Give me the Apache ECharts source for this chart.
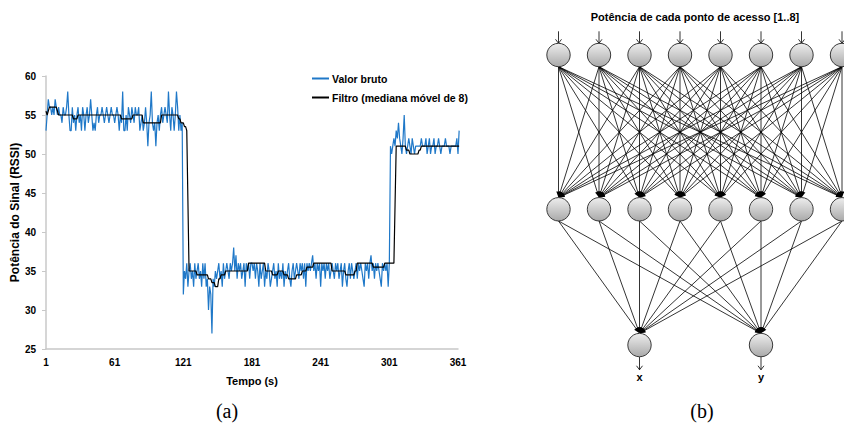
<!DOCTYPE html>
<html>
<head>
<meta charset="utf-8">
<script src="https://cdn.jsdelivr.net/npm/echarts@6/dist/echarts.min.js"></script>
<style>
  html, body { margin: 0; padding: 0; background: #fff; }
  #chart { width: 844px; height: 428px; }
</style>
</head>
<body>
<div id="chart"></div>
<script>
// amostras 1..361 (s)
const tempo = Array.from({ length: 361 }, (_, i) => String(i + 1));

// RSSI bruto
const valorBruto = [
  53,55,57,56,56,55,56,55,57,56, 55,56,55,55,54,56,55,55,56,58,
  55,53,53,56,54,55,53,55,56,54, 55,53,56,55,53,55,56,54,55,57,
  55,53,54,53,55,56,54,55,55,56, 55,54,55,56,55,54,55,56,55,55,
  54,55,56,55,53,55,54,58,53,53, 55,53,56,55,54,56,55,54,56,55,
  55,56,53,54,55,53,54,56,54,51, 54,55,58,54,53,54,51,54,55,53,
  55,56,54,55,56,55,54,58,55,53, 56,55,53,55,58,56,53,55,53,54,
  32,35,34,36,33,35,36,34,35,33, 36,34,35,36,34,35,33,36,34,36,
  33,34,30,33,32,27,34,33,35,34, 35,36,34,35,33,36,34,35,36,35,
  34,36,35,36,38,35,37,34,36,35, 36,34,35,36,33,36,35,36,34,36,
  36,35,36,34,36,35,33,36,34,35, 36,33,35,34,36,35,33,34,35,36,
  34,35,33,36,34,35,34,36,33,35, 34,35,36,34,33,35,36,34,35,36,
  35,34,36,35,36,34,36,33,36,35, 36,35,36,37,35,36,34,36,35,36,
  33,36,35,36,34,36,35,36,34,35, 36,35,34,36,35,36,34,35,36,33,
  35,36,34,33,35,36,34,36,35,34, 35,36,34,36,35,36,35,34,33,36,
  35,36,34,36,37,35,36,34,36,35, 36,35,34,33,36,35,36,35,36,33,
  36,51,50,51,52,51,53,52,54,52, 51,50,52,55,51,50,51,52,51,50,
  52,51,50,51,51,51,51,51,52,51, 51,51,52,50,51,52,50,51,51,52,
  50,51,51,52,51,50,51,51,51,52, 51,51,51,50,51,51,51,51,51,52,
  50,53
];

// filtro (mediana móvel de 8)
const filtroMediana = [
  55.5,55,55.5,56,56,56,56,56,56,56, 55.5,55,55,55,55,55,55,55,55,55,
  55,55,55,55,54.5,54.5,54.5,54.5,55,55, 55,55,55,55,55,55,55,55,55,55,
  55,55,55,55,55,55,55,55,55,55, 55,55,55,55,55,55,55,55,55,55,
  55,55,55,55,55,55,54.5,54.5,54.5,54.5, 54.5,54.5,54.5,54.5,54.5,54.5,55,55,55,55,
  55,55,55,55,55,54,54,54,54,54, 54,54,54,54,54,54,54,54,54,54,
  54,55,55,55,55,55,55,55,55,55, 55,55,55,55,55,55,54.5,54.5,54,54,
  54,53.5,53.5,53,44,35,35,35,35,35, 35,35,34.5,34.5,34.5,34.5,34.5,34.5,34.5,34.5,
  34.5,34.5,34,34,34,33.5,33.5,33.5,33,33, 33,34,34,34.5,34.5,34.5,34.5,35,35,35,
  35,35,35,35,35,35,35,35,35,35, 35,35,35,35,35,35,35,36,36,36,
  36,36,36,36,36,36,36,36,36,36, 36,36,35,35,35,35,35,35,34.5,34.5,
  34.5,34.5,34.5,35,35,35,35,35,34.5,34.5, 34.5,34.5,34,34,34,34,34,34,34,34.5,
  34.5,34.5,34.5,34.5,35,35,35,35,35.5,35.5, 35.5,35.5,35.5,35.5,36,36,36,36,36,36,
  36,36,36,36,36,36,36,36,36,36, 35,35,35,35,35,35,35,35,35,35,
  35,35,34.5,34.5,34.5,34.5,34.5,34.5,34.5,34.5, 35,35,36,36,36,36,36,36,36,36,
  36,36,36,36,36,36,35.5,35.5,35.5,35.5, 35.5,35.5,35.5,35.5,35.5,35.5,36,36,36,36,
  36,36,36,36,36,43.5,51,51,51,51, 51,51,51,51,51,50.5,50.5,50.5,50,50,
  50,50,50,50,50,50,50.5,50.5,51,51, 51,51,51,51,51,51,51,51,51,51,
  51,51,51,51,51,51,51,51,51,51, 51,51,51,51,51,51,51,51,51,51,
  51,51
];

// rede neural: 8 entradas, 8 ocultos, 2 saídas
const entradas = [1, 2, 3, 4, 5, 6, 7, 8];
const ocultos = [1, 2, 3, 4, 5, 6, 7, 8];
const saidas = ['x', 'y'];

// layout do diagrama (colunas/profundidade)
const colSaida = [3, 6];
const prof = [0, 1, 1.88];
const R = 11.7; // raio do nó em px

const nos = [];
entradas.forEach(k => nos.push([k, prof[0]]));
ocultos.forEach(k => nos.push([k, prof[1]]));
saidas.forEach((s, i) => nos.push([colSaida[i], prof[2]]));

const arestas = [];
entradas.forEach(a => ocultos.forEach(h => arestas.push([a, prof[0], h, prof[1]])));
ocultos.forEach(h => colSaida.forEach(c => arestas.push([h, prof[1], c, prof[2]])));

const fonte = 'Liberation Sans';

let myChart = echarts.init(document.getElementById('chart'), null, { renderer: 'svg' });
myChart.setOption({
  animation: false,
  textStyle: { fontFamily: fonte },
  legend: {
    orient: 'vertical',
    left: 307,
    top: 68,
    itemWidth: 17,
    itemHeight: 2,
    itemGap: 8,
    icon: 'rect',
    textStyle: { fontWeight: 'bold', fontSize: 10.5, color: '#000', fontFamily: fonte, padding: [0, 0, 0, -2] },
    data: ['Valor bruto', 'Filtro (mediana móvel de 8)']
  },
  grid: [
    { left: 46, top: 76, width: 412, height: 273 },
    // grade invisível do diagrama
    { left: 518, top: 24.14, width: 324, height: 370.3 }
  ],
  xAxis: [
    {
      gridIndex: 0,
      type: 'category',
      data: tempo,
      boundaryGap: false,
      axisLine: { lineStyle: { color: '#c8c8c8', width: 1.5 } },
      axisTick: { show: false },
      axisLabel: { interval: 59, fontWeight: 'bold', fontSize: 10, color: '#000', margin: 8 },
      splitLine: { show: false },
      name: 'Tempo (s)',
      nameLocation: 'middle',
      nameGap: 26,
      nameTextStyle: { fontWeight: 'bold', fontSize: 11, color: '#000' }
    },
    { gridIndex: 1, type: 'value', min: 0, max: 8, show: false }
  ],
  yAxis: [
    {
      gridIndex: 0,
      type: 'value',
      min: 25,
      max: 60,
      interval: 5,
      axisLine: { show: true, lineStyle: { color: '#c8c8c8', width: 1.5 } },
      axisTick: { show: true, length: 4, lineStyle: { color: '#c8c8c8' } },
      axisLabel: { fontWeight: 'bold', fontSize: 10, color: '#000', margin: 10 },
      splitLine: { show: false },
      name: 'Potência do Sinal (RSSI)',
      nameLocation: 'middle',
      nameGap: 19,
      nameTextStyle: { fontWeight: 'bold', fontSize: 12, color: '#000' }
    },
    { gridIndex: 1, type: 'value', min: -0.2, max: 2.2, inverse: true, show: false }
  ],
  title: [
    {
      text: 'Potência de cada ponto de acesso [1..8]',
      left: 690, top: 6, textAlign: 'center',
      textStyle: { fontSize: 11, fontWeight: 'bold', color: '#000', fontFamily: fonte }
    },
    {
      text: '(a)', left: 222, top: 396, textAlign: 'center',
      textStyle: { fontSize: 20, fontWeight: 'normal', color: '#000', fontFamily: 'Liberation Serif' }
    },
    {
      text: '(b)', left: 697, top: 396, textAlign: 'center',
      textStyle: { fontSize: 20, fontWeight: 'normal', color: '#000', fontFamily: 'Liberation Serif' }
    }
  ],
  series: [
    {
      name: 'Valor bruto',
      type: 'line',
      xAxisIndex: 0, yAxisIndex: 0,
      data: valorBruto,
      symbol: 'none',
      color: '#1f78c8',
      lineStyle: { width: 1.2, color: '#1f78c8' },
      z: 2
    },
    {
      name: 'Filtro (mediana móvel de 8)',
      type: 'line',
      xAxisIndex: 0, yAxisIndex: 0,
      data: filtroMediana,
      symbol: 'none',
      color: '#000',
      lineStyle: { width: 1.2, color: '#000' },
      z: 3
    },
    {
      // ligações entre camadas
      type: 'custom',
      xAxisIndex: 1, yAxisIndex: 1,
      data: arestas,
      clip: false,
      silent: true,
      encode: { x: [0, 2], y: [1, 3] },
      renderItem: function (params, api) {
        const a = api.coord([api.value(0), api.value(1)]);
        const b = api.coord([api.value(2), api.value(3)]);
        const x1 = a[0], y1 = a[1] + R, x2 = b[0], y2 = b[1] - R;
        const ang = Math.atan2(y2 - y1, x2 - x1);
        const L = 6, W = 2.2;
        const bx = x2 - L * Math.cos(ang), by = y2 - L * Math.sin(ang);
        const px = -Math.sin(ang) * W, py = Math.cos(ang) * W;
        return {
          type: 'group',
          children: [
            { type: 'line', shape: { x1: x1, y1: y1, x2: bx, y2: by }, style: { stroke: '#000', lineWidth: 0.8 } },
            { type: 'polygon', shape: { points: [[x2, y2], [bx + px, by + py], [bx - px, by - py]] }, style: { fill: '#000' } }
          ]
        };
      },
      z: 2
    },
    {
      // setas de entrada
      type: 'custom',
      xAxisIndex: 1, yAxisIndex: 1,
      data: entradas.map(k => [k, prof[0]]),
      clip: false,
      silent: true,
      renderItem: function (params, api) {
        const p = api.coord([api.value(0), api.value(1)]);
        const x = p[0], yb = p[1] - R, yt = yb - 12;
        return {
          type: 'group',
          children: [
            { type: 'line', shape: { x1: x, y1: yt, x2: x, y2: yb }, style: { stroke: '#000', lineWidth: 0.8 } },
            { type: 'polyline', shape: { points: [[x - 3, yb - 4], [x, yb], [x + 3, yb - 4]] }, style: { stroke: '#000', lineWidth: 0.8, fill: null } }
          ]
        };
      },
      z: 2
    },
    {
      // setas de saída e rótulos
      type: 'custom',
      xAxisIndex: 1, yAxisIndex: 1,
      data: colSaida.map(c => [c, prof[2]]),
      clip: false,
      silent: true,
      renderItem: function (params, api) {
        const p = api.coord([api.value(0), api.value(1)]);
        const x = p[0], yt = p[1] + R, yb = yt + 13;
        return {
          type: 'group',
          children: [
            { type: 'line', shape: { x1: x, y1: yt, x2: x, y2: yb }, style: { stroke: '#000', lineWidth: 0.8 } },
            { type: 'polyline', shape: { points: [[x - 3, yb - 4], [x, yb], [x + 3, yb - 4]] }, style: { stroke: '#000', lineWidth: 0.8, fill: null } },
            { type: 'text', style: { text: saidas[params.dataIndex], x: x, y: yb + 7, align: 'center', verticalAlign: 'middle', font: 'bold 11px ' + fonte, fill: '#000' } }
          ]
        };
      },
      z: 2
    },
    {
      // nós
      type: 'scatter',
      xAxisIndex: 1, yAxisIndex: 1,
      data: nos,
      symbolSize: 2 * R,
      silent: true,
      clip: false,
      itemStyle: {
        color: new echarts.graphic.LinearGradient(0, 0, 0, 1, [
          { offset: 0, color: '#eeeeee' },
          { offset: 1, color: '#a9a9a9' }
        ]),
        borderColor: '#3a3a3a',
        borderWidth: 1,
        opacity: 1
      },
      z: 4
    }
  ]
});
</script>
</body>
</html>
